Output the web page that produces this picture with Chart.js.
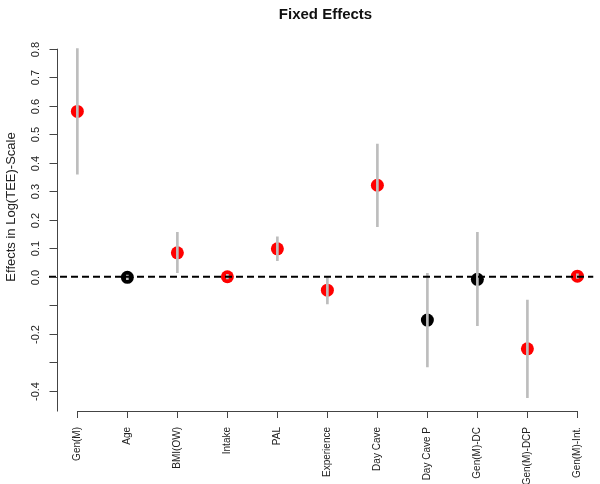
<!DOCTYPE html>
<html>
<head>
<meta charset="utf-8">
<script src="https://cdn.jsdelivr.net/npm/chart.js@4/dist/chart.umd.min.js"></script>
<style>
html, body { margin: 0; padding: 0; background: #fff; }
</style>
</head>
<body>
<canvas id="myChart" width="600" height="484"></canvas>
<script>
var categories = ['Gen(M)', 'Age', 'BMI(OW)', 'Intake', 'PAL', 'Experience', 'Day Cave', 'Day Cave P', 'Gen(M)-DC', 'Gen(M)-DCP', 'Gen(M)-Int.'];
var estimates = [0.58, -0.002, 0.084, 0.0, 0.098, -0.047, 0.321, -0.152, -0.009, -0.253, 0.002];
var lower = [0.36, -0.010, 0.014, -0.008, 0.056, -0.095, 0.176, -0.316, -0.172, -0.424, -0.006];
var upper = [0.80, 0.006, 0.156, 0.008, 0.140, 0.0, 0.465, 0.012, 0.156, -0.082, 0.010];
var significant = [true, false, true, true, true, true, true, false, false, true, true];

var yTicks = [-0.4, -0.3, -0.2, -0.1, 0.0, 0.1, 0.2, 0.3, 0.4, 0.5, 0.6, 0.7, 0.8];
var yTickLabels = ['-0.4', '', '-0.2', '', '0.0', '0.1', '0.2', '0.3', '0.4', '0.5', '0.6', '0.7', '0.8'];

var xMin = 0.433, xMax = 11.322, yAxisAt = 0.585;
var yMin = -0.471, yMax = 0.848;

var points = categories.map(function (c, i) { return { x: i + 1, y: estimates[i] }; });
var bars = categories.map(function (c, i) { return { x: i + 1, y: [lower[i], upper[i]] }; });
var colors = significant.map(function (s) { return s ? '#ff0000' : '#000000'; });

// R-style axes: y axis with rotated labels, x axis line only between first and last tick
var rAxes = {
    id: 'rAxes',
    afterDraw: function (chart) {
        var c = chart.ctx;
        var xs = chart.scales.x, ys = chart.scales.y, area = chart.chartArea;
        var ax = Math.round(xs.getPixelForValue(yAxisAt)) + 0.5;
        var bottom = Math.round(area.bottom) + 0.5;
        c.save();
        c.strokeStyle = '#444';
        c.lineWidth = 1;
        c.beginPath();
        c.moveTo(ax, ys.getPixelForValue(yTicks[yTicks.length - 1]));
        c.lineTo(ax, bottom);
        c.moveTo(xs.getPixelForValue(1), bottom);
        c.lineTo(xs.getPixelForValue(categories.length), bottom);
        c.stroke();

        c.fillStyle = '#222';
        c.font = '11px "Liberation Sans", Arial, sans-serif';
        c.textAlign = 'center';
        c.textBaseline = 'middle';
        for (var i = 0; i < yTicks.length; i++) {
            var py = Math.round(ys.getPixelForValue(yTicks[i])) + 0.5;
            c.beginPath();
            c.moveTo(ax - 8, py);
            c.lineTo(ax, py);
            c.stroke();
            if (yTickLabels[i]) {
                c.save();
                c.translate(36, py);
                c.rotate(-Math.PI / 2);
                c.fillText(yTickLabels[i], 0, 0);
                c.restore();
            }
        }

        c.save();
        c.font = '13px "Liberation Sans", Arial, sans-serif';
        c.translate(11, 207);
        c.rotate(-Math.PI / 2);
        c.fillText('Effects in Log(TEE)-Scale', 0, 0);
        c.restore();

        c.font = 'bold 15px "Liberation Sans", Arial, sans-serif';
        c.fillStyle = '#111';
        c.fillText('Fixed Effects', (ax + area.right) / 2, 15);
        c.restore();
    }
};

var ctx = document.getElementById('myChart');

var chart = new Chart(ctx, {
    type: 'scatter',
    data: {
        datasets: [{
            type: 'line',
            data: [{ x: xMin, y: 0 }, { x: xMax, y: 0 }],
            borderColor: '#000',
            borderWidth: 2,
            borderDash: [7, 4],
            pointRadius: 0,
            fill: false
        }, {
            type: 'bar',
            data: bars,
            backgroundColor: '#bdbdbd',
            borderWidth: 0,
            barThickness: 2
        }, {
            data: points,
            backgroundColor: colors,
            borderWidth: 0,
            pointBorderWidth: 0,
            pointRadius: 6.5,
            pointHoverRadius: 6.5
        }]
    },
    options: {
        responsive: false,
        animation: false,
        events: [],
        layout: { padding: { left: 49, right: 0, top: 35, bottom: 0 } },
        plugins: {
            legend: { display: false },
            tooltip: { enabled: false }
        },
        scales: {
            x: {
                type: 'linear',
                min: xMin,
                max: xMax,
                offset: false,
                afterBuildTicks: function (scale) {
                    scale.ticks = categories.map(function (c, i) { return { value: i + 1 }; });
                },
                afterFit: function (scale) { scale.height = 73; },
                border: { display: false },
                grid: { drawOnChartArea: false, drawTicks: true, tickLength: 7, color: '#444', lineWidth: 1, offset: false },
                ticks: {
                    autoSkip: false,
                    minRotation: 90,
                    maxRotation: 90,
                    padding: 9,
                    color: '#222',
                    font: { family: '"Liberation Sans", Arial, sans-serif', size: 10 },
                    callback: function (v) { return categories[v - 1]; }
                }
            },
            y: {
                display: false,
                min: yMin,
                max: yMax
            }
        }
    },
    plugins: [rAxes]
});
</script>
</body>
</html>
